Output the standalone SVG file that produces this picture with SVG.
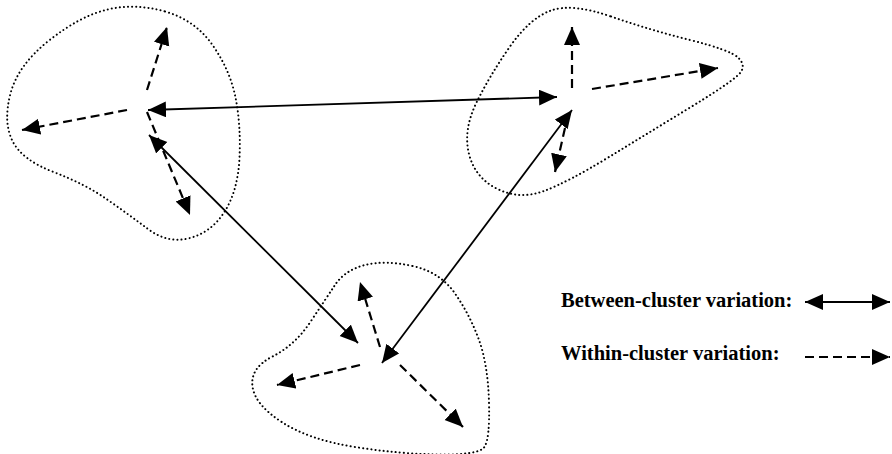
<svg xmlns="http://www.w3.org/2000/svg" width="892" height="454" viewBox="0 0 892 454">
<style>
.blob{fill:none;stroke:#000;stroke-width:2;stroke-dasharray:0.1 4;stroke-linecap:round}
.solid{fill:none;stroke:#000;stroke-width:1.8;marker-end:url(#ah);marker-start:url(#ah)}
.dash{fill:none;stroke:#000;stroke-width:2.2;stroke-dasharray:9 5;marker-end:url(#ah)}
.lg{font-family:"Liberation Serif","Times New Roman",serif;font-weight:bold;font-size:20.5px;fill:#000}
</style>
<defs>
<marker id="ah" markerUnits="userSpaceOnUse" markerWidth="20" markerHeight="18" refX="18" refY="8" orient="auto-start-reverse">
<path d="M0,0 L18,8 L0,16 Z" fill="#000"/>
</marker>
</defs>
<rect width="892" height="454" fill="#fff"/>
<g id="cluster1">
<path class="blob" d="M165,11.5 Q195,20 212.5,45 Q230,70 235.5,97.5 Q241,125 239.5,157.5 Q238,190 225,211 Q212,232 190,238 Q168,244 148,229 Q128,214 106.5,199 Q85,184 53.5,172 Q22,160 12.5,141 Q3,122 10.5,93.5 Q18,65 49,40.5 Q80,16 107.5,9.5 Q135,3 165,11.5 Z"/>
<line class="dash" x1="147" y1="90" x2="167" y2="27"/>
<line class="dash" x1="127" y1="110" x2="22" y2="130"/>
<line class="dash" x1="147" y1="112" x2="190" y2="215"/>
</g>
<g id="cluster2">
<path class="blob" d="M611,16.5 Q650,30 690,40 Q730,50 738,57.5 Q746,65 740.5,72.5 Q735,80 692.5,106 Q650,132 609,157 Q568,182 544,191 Q520,200 497.5,189 Q475,178 469,154 Q463,130 476.5,102.5 Q490,75 510,46.5 Q530,18 551,10.5 Q572,3 611,16.5 Z"/>
<line class="dash" x1="572" y1="88" x2="572" y2="27"/>
<line class="dash" x1="592" y1="89" x2="718" y2="68"/>
<line class="dash" x1="565" y1="128" x2="555" y2="172"/>
</g>
<g id="cluster3">
<path class="blob" d="M412.5,266 Q440,272 455,293.5 Q470,315 479,340 Q488,365 489,402.5 Q490,440 484,447.5 Q478,455 439,454.5 Q400,454 355,447 Q310,440 282.5,422.5 Q255,405 252.5,386.5 Q250,368 272.5,356.5 Q295,345 310,322.5 Q325,300 335,285 Q345,270 365,265 Q385,260 412.5,266 Z"/>
<line class="dash" x1="380" y1="347" x2="360" y2="282"/>
<line class="dash" x1="360" y1="365" x2="277" y2="385"/>
<line class="dash" x1="400" y1="365" x2="463" y2="427"/>
</g>
<g id="connectors">
<line class="solid" x1="148" y1="110" x2="557" y2="97"/>
<line class="solid" x1="149" y1="135" x2="358" y2="343"/>
<line class="solid" x1="382" y1="363" x2="572" y2="110"/>
</g>
<g id="legend">
<text class="lg" x="561" y="307">Between-cluster variation:</text>
<line class="solid" x1="805" y1="302" x2="890" y2="302"/>
<text class="lg" x="561" y="360">Within-cluster variation:</text>
<line class="dash" x1="805" y1="357" x2="890" y2="357"/>
</g>
</svg>
